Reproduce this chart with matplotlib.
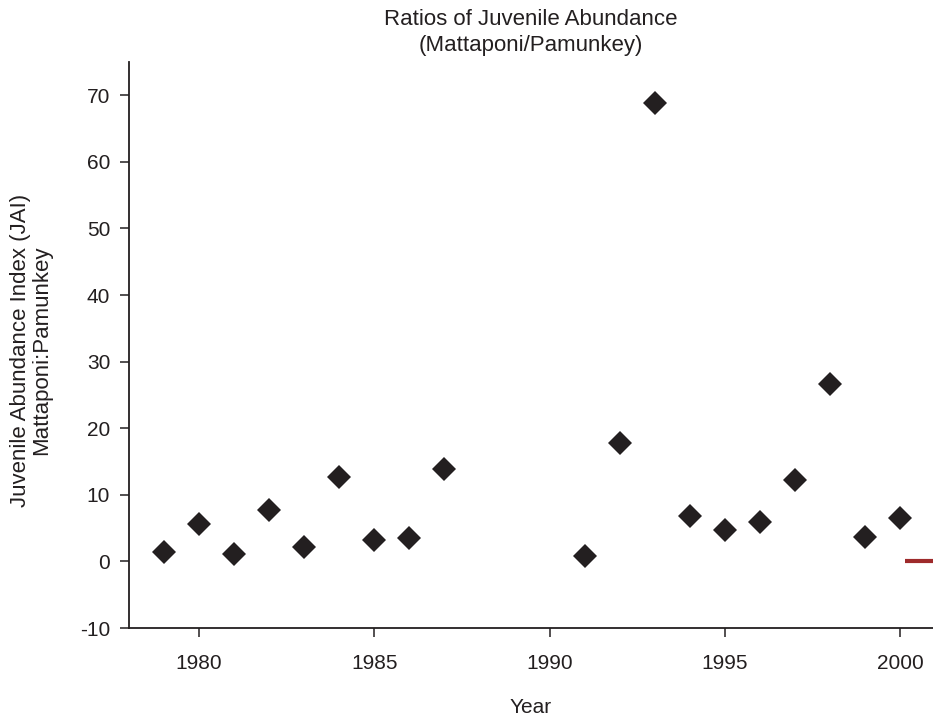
import numpy as np
import matplotlib
matplotlib.use("Agg")
import matplotlib.pyplot as plt

plt.rcParams['font.family'] = ['Liberation Sans', 'DejaVu Sans']
plt.rcParams['axes.unicode_minus'] = False

# ratio of juvenile abundance index, Mattaponi:Pamunkey
years = [1979, 1980, 1981, 1982, 1983, 1984, 1985, 1986, 1987,
         1991, 1992, 1993, 1994, 1995, 1996, 1997, 1998, 1999, 2000]
ratios = [1.35, 5.6, 1.1, 7.7, 2.15, 12.7, 3.15, 3.45, 13.95,
          0.75, 17.85, 68.9, 6.75, 4.65, 5.95, 12.25, 26.6, 3.65, 6.55]

# short reference segment at zero on the right edge
ref_x = [2000.15, 2001.2]
ref_y = [0, 0]

x_ticks = [1980, 1985, 1990, 1995, 2000]
y_ticks = [-10, 0, 10, 20, 30, 40, 50, 60, 70]

ink = '#231f20'

fig = plt.figure(figsize=(9.33, 7.15), dpi=100)
ax = fig.add_axes([129/933, 1 - 628/715, 1 - 129/933, (628 - 62)/715])

ax.plot(years, ratios, linestyle='none', marker='D', markersize=12.2,
        color=ink, markeredgewidth=0)
ax.plot(ref_x, ref_y, color='#9e2a2b', linewidth=3, solid_capstyle='butt')

ax.set_xlim(1978, 2000.94)
ax.set_ylim(-10, 75)
ax.set_xticks(x_ticks)
ax.set_yticks(y_ticks)

for s in ['top', 'right']:
    ax.spines[s].set_visible(False)
for s in ['left', 'bottom']:
    ax.spines[s].set_color(ink)
    ax.spines[s].set_linewidth(1.3)

ax.tick_params(axis='both', direction='out', length=6.5, width=1.1,
               color=ink, labelsize=15, labelcolor=ink)
ax.tick_params(axis='x', pad=12)
ax.tick_params(axis='y', pad=7)

ax.set_xlabel('Year', fontsize=15, color=ink, labelpad=18)
ax.set_ylabel('Juvenile Abundance Index (JAI)\nMattaponi:Pamunkey',
              fontsize=16, color=ink, linespacing=1.0)
ax.yaxis.label.set_va('center')
ax.yaxis.set_label_coords(-0.122, 0.49)
ax.set_title('Ratios of Juvenile Abundance\n(Mattaponi/Pamunkey)',
             fontsize=16, color=ink, pad=8, linespacing=1.32)

fig.savefig('out.png', dpi=100)
